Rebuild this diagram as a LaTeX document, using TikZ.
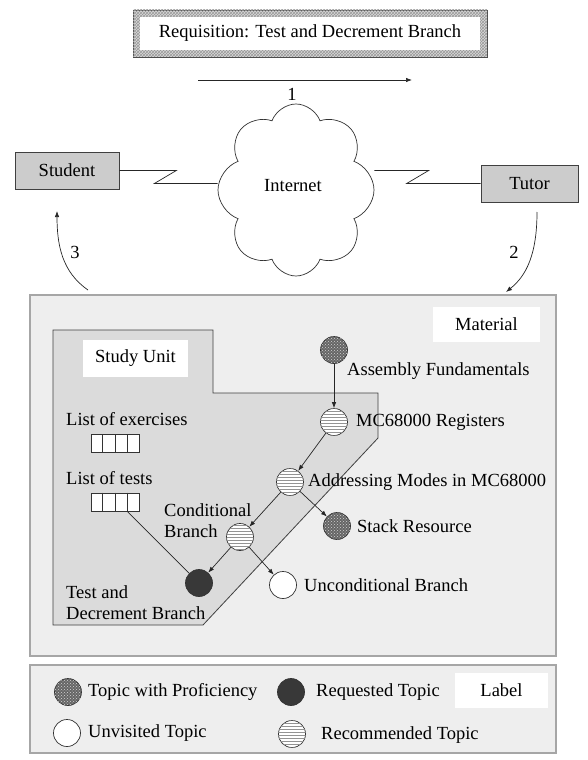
\documentclass[tikz,border=0pt]{standalone}
\usepackage{fontspec}
\setmainfont{Liberation Serif}
\usetikzlibrary{shapes.symbols,patterns,arrows.meta,calc}
\begin{document}
\begin{tikzpicture}[x=1pt,y=-1pt,
  every node/.style={font=\fontsize{18.5}{21}\selectfont, inner sep=0pt},
  txt/.style={anchor=west, align=left},
  conn/.style={draw=black!85, line width=0.7pt},
  arr/.style={conn, -{Latex[length=6pt,width=4.5pt]}},
  topic/.style={circle, draw=black!80, line width=0.7pt, minimum size=27pt},
  prof/.style={topic, fill=black!60, postaction={pattern=crosshatch dots, pattern color=gray!35}},
  rec/.style={topic, fill=white, postaction={pattern=horizontal lines, pattern color=gray!85}},
  req/.style={topic, fill=black!78},
  unv/.style={topic, fill=white},
  actor/.style={draw=black!75, fill=gray!40, line width=0.7pt},
  panel/.style={draw=gray!70, fill=gray!13, line width=1.2pt},
  whitelab/.style={fill=white},
  listbox/.style={draw=black!80, fill=white, line width=0.7pt, minimum width=48pt, minimum height=18pt},
  reqframe/.style={draw=black!70, line width=0.6pt, fill=gray!30, postaction={pattern=crosshatch, pattern color=gray!80}}
]
\useasboundingbox (0,0) rectangle (588,760);

% ---------- top part ----------
\node[reqframe, minimum width=354pt, minimum height=47pt] (reqframe) at (310,33.5) {};
\node[whitelab, minimum width=340pt, minimum height=33pt] (request) at (reqframe) {Requisition: Test and Decrement Branch};

\coordinate (a1s) at (198,80);
\coordinate (a1e) at (412,80);
\draw[arr] (a1s) -- (a1e);
\node (n1) at (292,94) {1};

\node[cloud, cloud puffs=8, cloud puff arc=140, aspect=0.92, draw=black!80, line width=0.7pt, fill=white,
      minimum width=156pt, minimum height=172pt] (cloud) at (296,190) {};
\node (internet) at (293,186) {Internet};

\node[actor, minimum width=104pt, minimum height=37pt] (student) at (67,170.5) {Student};
\node[actor, minimum width=97pt, minimum height=37pt] (tutor) at (529.5,183.5) {Tutor};

\draw[conn] (student.east) -- ++(57,0) coordinate (l1) -- ++(-22,13) coordinate (l2) -- (l2 -| cloud.west);
\draw[conn] (tutor.west) -- ++(-74,0) coordinate (r1) -- ++(22,-13) coordinate (r2) -- (r2 -| cloud.east);

\coordinate (a3s) at (88,290);
\coordinate (a3e) at (57,211);
\draw[arr] (a3s) .. controls (62,272) and (57,245) .. (a3e);
\node (n3) at (75,252) {3};

\coordinate (a2s) at (537,212);
\coordinate (a2e) at (506,292);
\draw[arr] (a2s) .. controls (537,255) and (526,276) .. (a2e);
\node (n2) at (514,252) {2};

% ---------- material panel ----------
\node[panel, minimum width=526pt, minimum height=361pt] (material) at (293,475.5) {};
\node[whitelab, minimum width=107pt, minimum height=35pt] (materiallab) at (486.5,324.5) {Material};

\path[draw=black!75, fill=gray!28, line width=0.8pt]
  (53,330) -- (213,330) -- (213,393) -- (378,393) -- (378,438) -- (203,625) -- (53,625) -- cycle;
\node[whitelab, minimum width=105pt, minimum height=37pt] (studyunit) at (135.5,358.5) {Study Unit};

\node[txt] (exlab) at (66,419) {List of exercises};
\node[listbox] (exbox) at (115,443.5) {};
\foreach \k in {1,2,3}
  \draw[black!80, line width=0.7pt] ($(exbox.north west)!\k/4!(exbox.north east)$) -- ($(exbox.south west)!\k/4!(exbox.south east)$);
\node[txt] (tslab) at (66,478) {List of tests};
\node[listbox] (tsbox) at (115,502) {};
\foreach \k in {1,2,3}
  \draw[black!80, line width=0.7pt] ($(tsbox.north west)!\k/4!(tsbox.north east)$) -- ($(tsbox.south west)!\k/4!(tsbox.south east)$);

\node[prof] (asm) at (334,350) {};
\node[rec]  (regs) at (334,422) {};
\node[rec]  (addr) at (290,482) {};
\node[prof] (stack) at (337,526) {};
\node[rec]  (cond) at (240,537) {};
\node[req]  (tdb) at (199,583) {};
\node[unv]  (unc) at (283,585) {};

\node[txt] (asmlab) at (347,371) {Assembly Fundamentals};
\node[txt] (regslab) at (356,422) {MC68000 Registers};
\node[txt] (addrlab) at (308,482) {Addressing Modes in MC68000};
\node[txt] (stacklab) at (357,526) {Stack Resource};
\node[txt] (condlab) at (164,521) {Conditional\\Branch};
\node[txt] (tdblab) at (66,603) {Test and\\Decrement Branch};
\node[txt] (unclab) at (304,585) {Unconditional Branch};

\draw[arr] (asm) -- (regs);
\draw[arr] (regs) -- (addr);
\draw[arr] (addr) -- (cond);
\draw[arr] (addr) -- (stack);
\draw[arr] (cond) -- (tdb);
\draw[arr] (cond) -- (unc);
\draw[conn] ($(tsbox.south west)!0.75!(tsbox.south east)$) -- (tdb);

% ---------- legend ----------
\node[panel, minimum width=526pt, minimum height=88pt] (legend) at (293,709) {};
\node[prof] (lprof) at (68,692) {};
\node[txt] (lproft) at (88,692) {Topic with Proficiency};
\node[req] (lreq) at (291,692) {};
\node[txt] (lreqt) at (316,692) {Requested Topic};
\node[whitelab, minimum width=93pt, minimum height=35pt] (llabel) at (501.5,690.5) {Label};
\node[unv] (lunv) at (67,733) {};
\node[txt] (lunvt) at (88,733) {Unvisited Topic};
\node[rec] (lrec) at (292,734) {};
\node[txt] (lrect) at (321,735) {Recommended Topic};
\end{tikzpicture}
\end{document}
